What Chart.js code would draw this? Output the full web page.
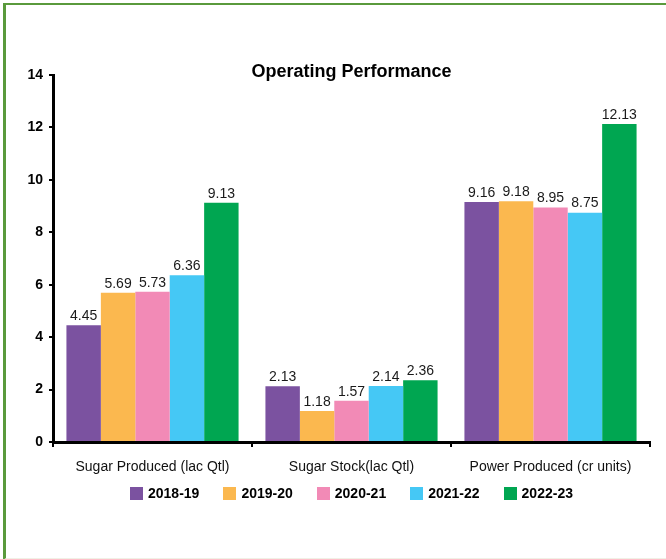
<!DOCTYPE html>
<html lang="en">
<head>
  <meta charset="UTF-8">
  <title>Operating Performance</title>
  <script src="https://cdn.jsdelivr.net/npm/chart.js"></script>
  <style>
    body {
      margin: 0;
      padding: 0;
      background-color: #fff;
      font-family: "Liberation Sans", Arial, sans-serif;
    }

    #frame {
      position: absolute;
      left: 3px;
      top: 3px;
      width: 663px;
      height: 553px;
      border-top: 2px solid #5a9a3c;
      border-left: 3px solid #5a9a3c;
      border-bottom: 2px solid #f1f0e6;
    }

    #perfChart {
      position: absolute;
      left: 0;
      top: 0;
    }

    /* legend under the axis */
    #legend {
      position: absolute;
      left: 53px;
      width: 597px;
      top: 485px;
      height: 16px;
      display: flex;
      justify-content: center;
      align-items: center;
      font-size: 14px;
      font-weight: bold;
      color: #000;
    }

    .item {
      display: flex;
      align-items: center;
      margin: 0 12px;
    }

    .swatch {
      width: 13px;
      height: 13px;
      margin-right: 5px;
    }
  </style>
</head>
<body>
  <div id="frame"></div>
  <canvas id="perfChart" width="666" height="559"></canvas>
  <div id="legend"></div>

  <script>
    // chart data
    const categories = ["Sugar Produced (lac Qtl)", "Sugar Stock(lac Qtl)", "Power Produced (cr units)"];
    const years = ["2018-19", "2019-20", "2020-21", "2021-22", "2022-23"];
    const fy1819 = [4.45, 2.13, 9.16];
    const fy1920 = [5.69, 1.18, 9.18];
    const fy2021 = [5.73, 1.57, 8.95];
    const fy2122 = [6.36, 2.14, 8.75];
    const fy2223 = [9.13, 2.36, 12.13];
    const yTicks = [0, 2, 4, 6, 8, 10, 12, 14];

    const colors = ["#7b52a0", "#fbb84f", "#f28ab6", "#45c8f5", "#00a651"];
    const series = [fy1819, fy1920, fy2021, fy2122, fy2223];
    const font = "'Liberation Sans', Arial, sans-serif";

    // title drawn inside the plot area, level with the top tick
    const titlePlugin = {
      id: "innerTitle",
      afterDraw(chart) {
        const ctx = chart.ctx;
        const area = chart.chartArea;
        ctx.save();
        ctx.font = "bold 18px " + font;
        ctx.fillStyle = "#000";
        ctx.textAlign = "center";
        ctx.textBaseline = "middle";
        ctx.fillText("Operating Performance", (area.left + area.right) / 2, 72);
        ctx.restore();
      }
    };

    // value labels above each bar
    const valuePlugin = {
      id: "valueLabels",
      afterDatasetsDraw(chart) {
        const ctx = chart.ctx;
        ctx.save();
        ctx.font = "14px " + font;
        ctx.fillStyle = "#1a1a1a";
        ctx.textAlign = "center";
        ctx.textBaseline = "bottom";
        chart.data.datasets.forEach((ds, i) => {
          chart.getDatasetMeta(i).data.forEach((bar, j) => {
            ctx.fillText(ds.data[j].toFixed(2), bar.x, bar.y - 2);
          });
        });
        ctx.restore();
      }
    };

    const ctx = document.getElementById("perfChart").getContext("2d");
    const perfChart = new Chart(ctx, {
      type: "bar",
      data: {
        labels: categories,
        datasets: years.map((y, i) => ({
          label: y,
          data: series[i],
          backgroundColor: colors[i],
          borderWidth: 0,
          categoryPercentage: 0.865,
          barPercentage: 1.0
        }))
      },
      options: {
        responsive: false,
        animation: false,
        layout: { padding: { left: 0, right: 16, top: 75, bottom: 77 } },
        plugins: {
          title: { display: false },
          tooltip: { enabled: false },
          legend: { display: false }
        },
        scales: {
          x: {
            afterFit(scale) { scale.height = 40; },
            grid: {
              display: true,
              drawOnChartArea: false,
              drawTicks: true,
              tickLength: 5,
              color: "#000",
              lineWidth: 2
            },
            border: { display: true, color: "#000", width: 3 },
            ticks: {
              color: "#111",
              padding: 12,
              maxRotation: 0,
              font: { family: font, size: 14 }
            }
          },
          y: {
            min: 0,
            max: 14,
            afterFit(scale) { scale.width = 53; },
            afterBuildTicks(scale) { scale.ticks = yTicks.map(v => ({ value: v })); },
            grid: {
              display: true,
              drawOnChartArea: false,
              drawTicks: true,
              tickLength: 4,
              color: "#000",
              lineWidth: 2
            },
            border: { display: true, color: "#000", width: 3 },
            ticks: {
              color: "#000",
              padding: 6,
              font: { family: font, size: 14, weight: "bold" }
            }
          }
        }
      },
      plugins: [titlePlugin, valuePlugin]
    });

    // legend built from the same series names and colours
    const legend = document.getElementById("legend");
    years.forEach((y, i) => {
      const item = document.createElement("div");
      item.className = "item";
      const sw = document.createElement("span");
      sw.className = "swatch";
      sw.style.background = colors[i];
      const txt = document.createElement("span");
      txt.textContent = y;
      item.appendChild(sw);
      item.appendChild(txt);
      legend.appendChild(item);
    });
  </script>
</body>
</html>
